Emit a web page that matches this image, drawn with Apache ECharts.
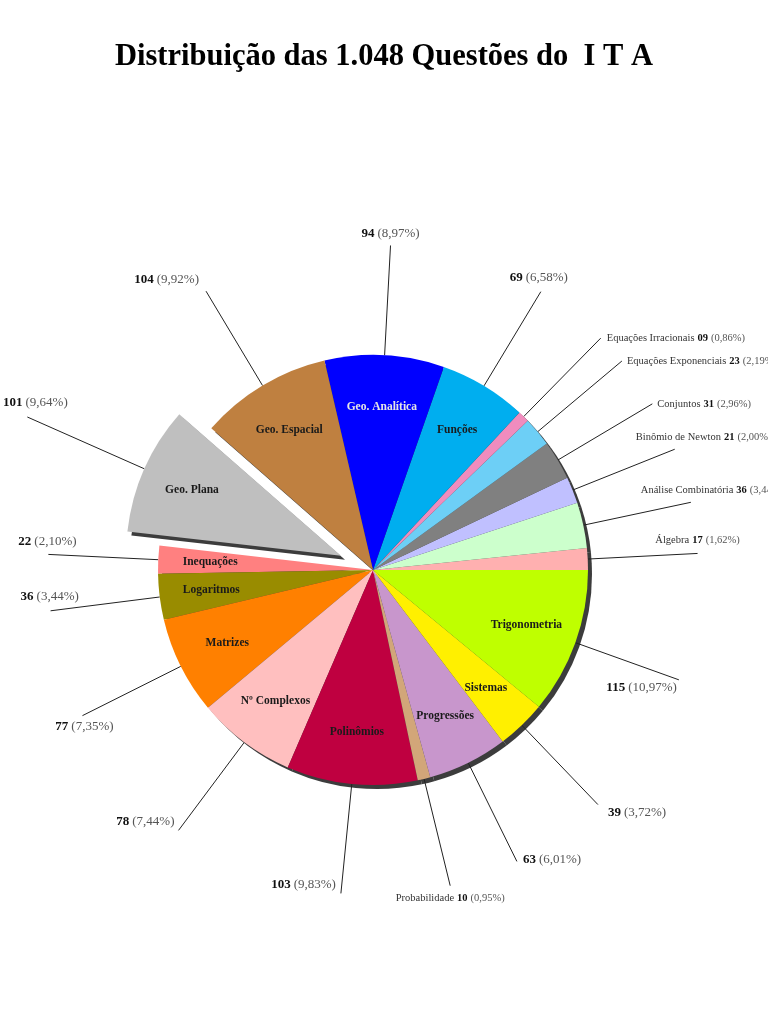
<!DOCTYPE html>
<html>
<head>
<meta charset="utf-8">
<script src="https://cdn.jsdelivr.net/npm/echarts@6/dist/echarts.min.js"></script>
<style>html,body{margin:0;padding:0;background:#fff}#c{width:768px;height:1024px}</style>
</head>
<body>
<div id="c"></div>
<script>
const categories = ['Álgebra','Análise Combinatória','Binômio de Newton','Conjuntos','Equações Exponenciais','Equações Irracionais','Funções','Geo. Analítica','Geo. Espacial','Geo. Plana','Inequações','Logaritmos','Matrizes','Nº Complexos','Polinômios','Probabilidade','Progressões','Sistemas','Trigonometria'];
const values = [17,36,21,31,23,9,69,94,104,101,22,36,77,78,103,10,63,39,115];
const colors = ['#ffb0b0','#ccffcc','#c0c0ff','#808080','#6dcff6','#f08cbe','#00aeef','#0000ff','#bf8040','#bfbfbf','#ff8080','#998c00','#ff8000','#ffbfbf','#bf0040','#d2a679','#c896cc','#fff000','#bfff00'];
const nameOutside = ['Álgebra','Análise Combinatória','Binômio de Newton','Conjuntos','Equações Exponenciais','Equações Irracionais','Probabilidade'];
const explodedSlice = 'Geo. Plana';
const total = values.reduce((a,b)=>a+b,0);

// label placement relative to leader-line end: [align, dx, dy]
const placement = {
  'Álgebra':['center',0,-13],
  'Análise Combinatória':['left',-50,-12],
  'Binômio de Newton':['left',-39,-12],
  'Conjuntos':['left',5,0],
  'Equações Exponenciais':['left',5,0],
  'Equações Irracionais':['left',6,0],
  'Funções':['center',-2,-14],
  'Geo. Analítica':['center',0,-12],
  'Geo. Espacial':['right',-7,-12],
  'Geo. Plana':['center',0,0],
  'Inequações':['left',-30,-13],
  'Logaritmos':['left',-30,-14],
  'Matrizes':['center',2,11],
  'Nº Complexos':['right',-4,-9],
  'Polinômios':['right',-5,-9],
  'Probabilidade':['center',0,13],
  'Progressões':['left',6,-2],
  'Sistemas':['left',10,8],
  'Trigonometria':['right',-2,8]
};

const pct = v => (v/total*100).toFixed(2).replace('.', ',');
const CENTER = [373, 570];
const R = 215;
const SERIF = '"Liberation Serif","DejaVu Serif",serif';

const mainData = categories.map((n,i)=>{
  const d = {name: n, value: values[i], selected: n === explodedSlice, itemStyle: {color: colors[i]}};
  if (n === explodedSlice) {
    d.labelLine = {length: 128};
    // the selected state keeps its own label anchor, so shift the text with padding
    d.label = {padding: [0, 0, 28, 26]};
  }
  return d;
});
const shadowData = categories.map((n,i)=>({name:n, value: values[i], selected: n === explodedSlice}));
const innerData = categories.map((n,i)=>({
  name: n, value: values[i], selected: n === explodedSlice,
  label: {show: nameOutside.indexOf(n) < 0, color: n === 'Geo. Analítica' ? '#e6e6e6' : '#1a1a1a'}
}));

const chart = echarts.init(document.getElementById('c'), null, {renderer:'canvas'});
chart.setOption({
  backgroundColor: '#fff',
  animation: false,
  title: {
    text: 'Distribuição das 1.048 Questões do  I T A',
    left: 'center', top: 37,
    textStyle: {fontFamily: SERIF, fontWeight: 'bold', fontSize: 30.5, color: '#000'}
  },
  series: [
    {
      type: 'pie', silent: true, z: 1,
      center: [CENTER[0]+4, CENTER[1]+4], radius: R,
      startAngle: 0, clockwise: false,
      selectedMode: 'multiple', selectedOffset: 35,
      itemStyle: {color: '#3c3c3c', borderWidth: 0},
      label: {show: false}, labelLine: {show: false},
      emphasis: {disabled: true},
      data: shadowData
    },
    {
      type: 'pie', silent: true, z: 2,
      center: CENTER, radius: R,
      startAngle: 0, clockwise: false,
      selectedMode: 'multiple', selectedOffset: 35,
      avoidLabelOverlap: false,
      itemStyle: {borderWidth: 0},
      emphasis: {disabled: true},
      label: {
        show: true, position: 'outside',
        fontFamily: SERIF, color: '#222',
        formatter: p => {
          const v = String(p.value).padStart(2,'0');
          if (nameOutside.indexOf(p.name) >= 0) {
            return '{n|' + p.name + '} {vs|' + v + '} {ps|(' + pct(p.value) + '%)}';
          }
          return '{v|' + v + '} {p|(' + pct(p.value) + '%)}';
        },
        rich: {
          v: {fontFamily: SERIF, fontWeight: 'bold', fontSize: 13, color: '#111'},
          p: {fontFamily: SERIF, fontSize: 13, color: '#555'},
          n: {fontFamily: SERIF, fontSize: 10.5, color: '#333'},
          vs: {fontFamily: SERIF, fontWeight: 'bold', fontSize: 10.5, color: '#111'},
          ps: {fontFamily: SERIF, fontSize: 10.5, color: '#555'}
        }
      },
      labelLine: {show: true, length: 110, length2: 0, smooth: false, lineStyle: {color: '#222', width: 1}},
      labelLayout: function (p) {
        const pts = p.labelLinePoints;
        if (!pts || pts.length < 2) return {};
        const name = categories[p.dataIndex];
        const pl = placement[name] || ['center',0,0];
        const s = pts[0], e = pts[1];
        if (name === explodedSlice) {
          return {align: pl[0], verticalAlign: 'middle', labelLinePoints: [s, e]};
        }
        return {
          x: e[0] + pl[1], y: e[1] + pl[2],
          align: pl[0], verticalAlign: 'middle',
          labelLinePoints: [s, e]
        };
      },
      data: mainData
    },
    {
      type: 'pie', silent: true, z: 3,
      center: CENTER, radius: [105, R],
      startAngle: 0, clockwise: false,
      selectedMode: 'multiple', selectedOffset: 35,
      itemStyle: {color: 'rgba(0,0,0,0)', borderWidth: 0},
      emphasis: {disabled: true},
      labelLine: {show: false},
      label: {position: 'inside', formatter: '{b}', fontFamily: SERIF, fontWeight: 'bold', fontSize: 11.5},
      data: innerData
    }
  ]
});
</script>
</body>
</html>
